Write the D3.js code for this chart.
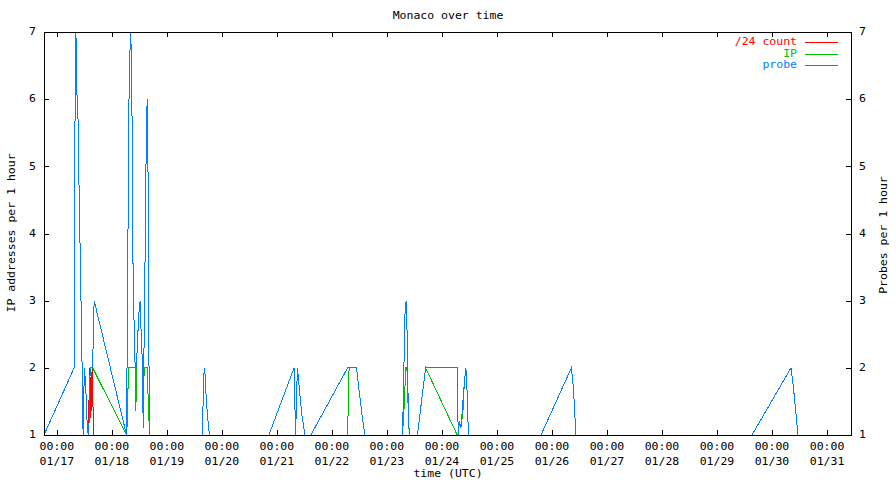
<!DOCTYPE html>
<html>
<head>
<meta charset="utf-8">
<script src="https://cdn.jsdelivr.net/npm/d3@7"></script>
<style>
  html, body { margin: 0; padding: 0; background: #fff; }
  svg { display: block; }
  text { font-family: "DejaVu Sans Mono", monospace; font-size: 10px; fill: #000; }
</style>
</head>
<body>
<svg id="chart" width="896" height="480"></svg>
<script>
// ---- data (hours relative to 01/17 00:00 UTC) ----
const title = "Monaco over time";
const xTitle = "time (UTC)";
const yTitle = "IP addresses per 1 hour";
const y2Title = "Probes per 1 hour";
const seriesNames = ["/24 count", "IP", "probe"];
const seriesColors = ["#ff0000", "#00c000", "#0080ff"];

const probeHours = [-5.6, 7.55, 7.68, 7.94, 8.29, 8.64, 8.90, 9.25, 9.60, 10.04, 10.47, 10.91, 11.21, 11.48,
  12.00, 12.44, 12.87, 13.22, 13.66, 14.18, 14.53, 15.62, 15.97, 16.28, 30.41, 30.67, 31.20, 31.55, 31.94,
  32.29, 32.81, 33.29, 34.17, 34.78, 35.04, 35.48, 35.91, 36.35, 36.65, 37.40, 37.66, 38.10, 38.53, 38.97,
  39.40, 39.84, 40.14, 40.58, 63.40, 63.84, 64.28, 64.58, 65.11, 65.68, 66.59, 92.51, 103.50, 104.16,
  104.94, 105.38, 106.03, 106.91, 108.22, 110.84, 126.85, 130.78, 131.56, 132.44, 133.31, 134.40, 150.68,
  151.20, 151.77, 152.38, 152.73, 153.17, 153.73, 157.31, 160.89, 174.67, 175.11, 175.63, 176.29, 177.16,
  177.81, 178.47, 178.82, 179.56, 211.20, 224.51, 225.38, 226.47, 303.27, 320.29, 321.38, 323.35, 346.47];
const probeValues = [1, 2, 3.25, 5.75, 7, 6.6, 5.75, 5.7, 4.87, 4.0, 3.14, 2.29, 1.42, 1,
  2, 1.82, 1.5, 1.17, 1, 1.25, 2, 2, 2.6, 3, 1, 2.24, 4.75, 6.24, 6.76,
  7, 5.73, 3.26, 2, 2, 2.29, 2.6, 2.86, 3, 2.64, 2, 1.1, 2.5, 3.75, 5.24,
  6.0, 4.75, 2.25, 1, 1, 1.5, 2, 1.95, 1.6, 1.3, 1, 1, 2, 1,
  2, 1.85, 1.6, 1.3, 1, 1, 2, 2, 1.75, 1.5, 1.25, 1, 1,
  1.52, 2.74, 3, 2.67, 1.67, 1, 1, 2, 2, 1, 1.2, 1.1, 1.5,
  1.8, 2, 1.8, 1, 1, 2, 1.7, 1, 1, 2, 1.7, 1, 1];

const ipHours = [-5.6, 13.66, 14.18, 14.53, 15.62, 30.41, 30.85, 31.20, 34.17, 34.47, 34.78, 35.04, 35.48,
  35.91, 36.35, 36.65, 37.40, 37.66, 38.10, 39.40, 40.14, 40.58, 63.40, 63.84, 64.28, 64.58, 65.11, 65.68,
  66.59, 92.51, 103.50, 104.16, 126.85, 127.50, 130.78, 131.56, 132.44, 133.31, 134.40, 150.68, 151.20,
  151.77, 152.20, 152.73, 153.17, 153.50, 153.73, 157.31, 160.89, 174.67, 175.11, 175.63, 176.29, 177.16,
  177.81, 178.47, 178.82, 179.56, 211.20, 224.51, 225.38, 226.47, 346.47];
const ipValues = [1, 1, 1.25, 2, 2, 1, 1.25, 2, 2, 1.35, 2, 2.29, 2.6,
  2.86, 3, 2.64, 2, 1.2, 2, 2, 1.25, 1, 1, 1.5, 2, 1.95, 1.6, 1.3,
  1, 1, 2, 1, 1, 2, 2, 1.75, 1.5, 1.25, 1, 1, 1.2,
  1.6, 2, 2, 1.5, 1.25, 1, 1, 2, 1, 1, 1.2, 1.1, 1.35,
  1.8, 2, 1.8, 1, 1, 2, 1.7, 1, 1];

const subnetHours = [-5.6, 13.66, 14.40, 14.83, 15.40, 16.06, 30.41, 30.85, 31.20, 34.17, 34.47, 34.78, 35.04,
  35.48, 35.91, 36.35, 36.65, 37.40, 37.66, 38.10, 39.40, 40.14, 40.58, 63.40, 63.84, 64.28, 64.58, 65.11,
  65.68, 66.59, 92.51, 103.50, 104.16, 126.85, 127.50, 130.78, 131.56, 132.44, 133.31, 134.40, 150.68,
  151.20, 151.77, 152.20, 152.73, 153.17, 153.50, 153.73, 157.31, 160.89, 174.67, 175.11, 175.63, 176.29,
  177.16, 177.81, 178.47, 178.82, 179.56, 211.20, 224.51, 225.38, 226.47, 346.47];
const subnetValues = [1, 1, 2, 1.25, 2, 1, 1, 1.25, 2, 2, 1.35, 2, 2.29,
  2.6, 2.86, 3, 2.64, 2, 1.2, 2, 2, 1.25, 1, 1, 1.5, 2, 1.95, 1.6,
  1.3, 1, 1, 2, 1, 1, 2, 2, 1.75, 1.5, 1.25, 1, 1,
  1.2, 1.6, 2, 2, 1.5, 1.25, 1, 1, 2, 1, 1, 1.2, 1.1,
  1.35, 1.8, 2, 1.8, 1, 1, 2, 1.7, 1, 1];

const yTicks = [1, 2, 3, 4, 5, 6, 7];
const xTickTimes = ["00:00", "00:00", "00:00", "00:00", "00:00", "00:00", "00:00", "00:00",
  "00:00", "00:00", "00:00", "00:00", "00:00", "00:00", "00:00"];
const xTickDates = ["01/17", "01/18", "01/19", "01/20", "01/21", "01/22", "01/23", "01/24",
  "01/25", "01/26", "01/27", "01/28", "01/29", "01/30", "01/31"];
const xTickHours = [0, 24, 48, 72, 96, 120, 144, 168, 192, 216, 240, 264, 288, 312, 336];

// ---- layout ----
const L = 44, R = 851, T = 32, B = 435;
const SX = 1.15; // horizontal stretch of the pixel-like font
const base = Date.UTC(2025, 0, 17);
const toDate = h => new Date(base + h * 3600e3);

const svg = d3.select("#chart");
const x = d3.scaleUtc().domain([toDate(-5.6), toDate(346.47)]).range([L, R]);
const y = d3.scaleLinear().domain([1, 7]).range([B, T]);
const y2 = d3.scaleLinear().domain([1, 7]).range([B, T]);

function label(parent, tx, ty, str, anchor, color, rot) {
  return parent.append("text")
    .attr("transform", `translate(${tx},${ty})${rot ? " rotate(" + rot + ")" : ""} scale(${SX},1)`)
    .attr("text-anchor", anchor).attr("dominant-baseline", "central")
    .style("fill", color || "#000").text(str);
}

// ticks (inward) via axes, labels drawn separately
const gL = svg.append("g").attr("transform", `translate(${L},0)`)
  .call(d3.axisLeft(y).tickValues(yTicks).tickFormat("").tickSizeInner(-5).tickSizeOuter(0));
const gR = svg.append("g").attr("transform", `translate(${R},0)`)
  .call(d3.axisRight(y2).tickValues(yTicks).tickFormat("").tickSizeInner(-5).tickSizeOuter(0));
const gB = svg.append("g").attr("transform", `translate(0,${B})`)
  .call(d3.axisBottom(x).tickValues(xTickHours.map(toDate)).tickFormat("").tickSizeInner(-5).tickSizeOuter(0));
const gT = svg.append("g").attr("transform", `translate(0,${T})`)
  .call(d3.axisTop(x).tickValues(xTickHours.map(toDate)).tickFormat("").tickSizeInner(-5).tickSizeOuter(0));
[gL, gR, gB, gT].forEach(g => {
  g.select(".domain").remove();
  g.selectAll("text").remove();
  g.selectAll("line").attr("stroke", "#000").attr("shape-rendering", "crispEdges");
});

// tick labels
const lab = svg.append("g");
yTicks.forEach(v => {
  label(lab, L - 8, y(v), String(v), "end");
  label(lab, R + 8, y2(v), String(v), "start");
});
xTickHours.forEach((h, i) => {
  label(lab, x(toDate(h)), 447, xTickTimes[i], "middle");
  label(lab, x(toDate(h)), 462, xTickDates[i], "middle");
});

// lines
const line = d3.line().x(d => x(toDate(d[0]))).y(d => y(d[1]));
const series = [
  d3.zip(subnetHours, subnetValues),
  d3.zip(ipHours, ipValues),
  d3.zip(probeHours, probeValues)
];
const plot = svg.append("g");
series.forEach((s, i) => {
  plot.append("path").datum(s).attr("d", line).attr("fill", "none")
    .attr("stroke", seriesColors[i]).attr("stroke-width", 1).attr("shape-rendering", "crispEdges");
});

// frame
svg.append("rect").attr("x", L).attr("y", T).attr("width", R - L).attr("height", B - T)
  .attr("fill", "none").attr("stroke", "#000").attr("stroke-width", 1).attr("shape-rendering", "crispEdges");

// titles
label(svg, 448, 16, title, "middle");
label(svg, 448, 474, xTitle, "middle");
label(svg, 12, 233, yTitle, "middle", "#000", -90);
label(svg, 884, 235, y2Title, "middle", "#000", -90);

// legend
const legY = [42, 53.6, 65.2];
const leg = svg.append("g");
seriesNames.forEach((n, i) => {
  label(leg, 797, legY[i], n, "end", seriesColors[i]);
  leg.append("line").attr("x1", 805).attr("x2", 838)
    .attr("y1", Math.round(legY[i]) + 0.5).attr("y2", Math.round(legY[i]) + 0.5)
    .attr("stroke", seriesColors[i]).attr("stroke-width", 1);
});
</script>
</body>
</html>
